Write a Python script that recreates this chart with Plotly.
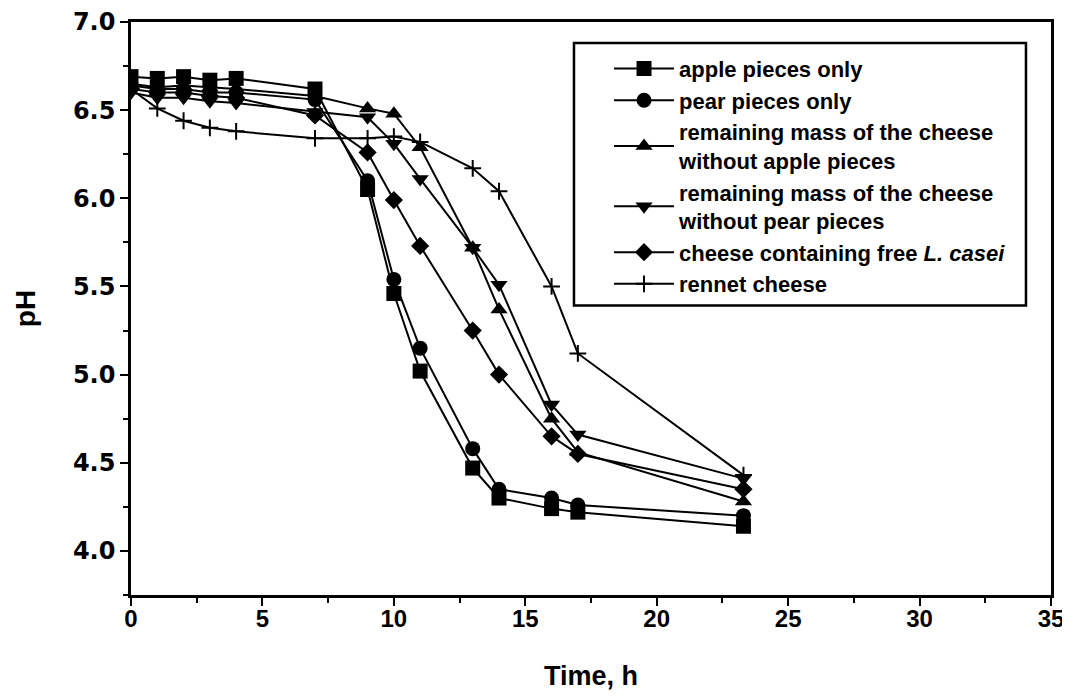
import plotly.graph_objects as go

time_h = [0, 1, 2, 3, 4, 7, 9, 10, 11, 13, 14, 16, 17, 23.3]

apple = [6.69, 6.68, 6.69, 6.67, 6.68, 6.62, 6.05, 5.46, 5.02, 4.47, 4.30, 4.24, 4.22, 4.14]
pear = [6.64, 6.62, 6.62, 6.60, 6.60, 6.56, 6.10, 5.54, 5.15, 4.58, 4.35, 4.30, 4.26, 4.20]
no_apple = [6.65, 6.63, 6.64, 6.63, 6.62, 6.58, 6.51, 6.48, 6.29, 5.72, 5.37, 4.75, 4.56, 4.28]
no_pear = [6.60, 6.57, 6.57, 6.55, 6.54, 6.49, 6.46, 6.31, 6.11, 5.72, 5.51, 4.83, 4.66, 4.41]
free_casei = [6.62, 6.60, 6.60, 6.58, 6.57, 6.47, 6.26, 5.99, 5.73, 5.25, 5.00, 4.65, 4.55, 4.35]
rennet = [6.62, 6.51, 6.44, 6.40, 6.38, 6.34, 6.34, 6.35, 6.32, 6.17, 6.04, 5.50, 5.12, 4.43]

names = [
    "apple pieces only",
    "pear pieces only",
    "remaining mass of the cheese<br>without apple pieces",
    "remaining mass of the cheese<br>without pear pieces",
    "cheese containing free <i>L. casei</i>",
    "rennet cheese",
]
series = [apple, pear, no_apple, no_pear, free_casei, rennet]
symbols = ["square", "circle", "triangle-up", "triangle-down", "diamond", "cross-thin"]
sizes = [15, 15, 15, 15, 14, 12]

fig = go.Figure()
for name, ys, sym, sz in zip(names, series, symbols, sizes):
    marker = dict(symbol=sym, size=sz, color="black")
    if sym == "cross-thin":
        marker["line"] = dict(color="black", width=2)
    fig.add_trace(go.Scatter(
        x=time_h, y=ys, name=name, mode="lines+markers",
        line=dict(color="black", width=2),
        marker=marker,
    ))

# legend frame
fig.add_shape(type="rect", xref="paper", yref="paper",
              x0=0.4815, x1=0.9728, y0=0.5052, y1=0.9635,
              line=dict(color="black", width=2.5), fillcolor="rgba(0,0,0,0)")

fig.update_layout(
    width=1070, height=700,
    margin=dict(l=123, r=27, t=14, b=113),
    plot_bgcolor="white", paper_bgcolor="white",
    font=dict(family="Liberation Sans, Arial, sans-serif", color="black"),
    showlegend=True,
    legend=dict(
        x=0.5196, y=0.955, xanchor="left", yanchor="top",
        borderwidth=0, bgcolor="rgba(0,0,0,0)",
        font=dict(size=22, family="Liberation Sans, Arial, sans-serif", weight="bold"),
        tracegroupgap=4, itemwidth=60,
    ),
    xaxis=dict(
        range=[0, 35], dtick=5, tick0=0, automargin=False,
        showgrid=False, zeroline=False,
        showline=True, linecolor="black", linewidth=2.5, mirror=True,
        ticks="outside", ticklen=8, tickwidth=2, tickcolor="black",
        ticklabelstandoff=-8, ticklabeloverflow="allow",
        minor=dict(dtick=2.5, ticks="outside", ticklen=5, tickwidth=2, tickcolor="black"),
        tickfont=dict(size=24, family="Liberation Sans Narrow, Liberation Sans, Arial", weight="bold"),
        title=dict(text="Time, h", font=dict(size=27, family="Liberation Sans Narrow, Liberation Sans, Arial", weight="bold"), standoff=36),
    ),
    yaxis=dict(
        range=[3.75, 7.0], dtick=0.5, tick0=4.0, tickformat=".1f", automargin=False,
        showgrid=False, zeroline=False,
        showline=True, linecolor="black", linewidth=2.5, mirror=True,
        ticks="outside", ticklen=8, tickwidth=2, tickcolor="black",
        ticklabeloverflow="allow",
        minor=dict(dtick=0.25, tick0=3.75, ticks="outside", ticklen=5, tickwidth=2, tickcolor="black"),
        tickfont=dict(size=24, family="DejaVu Sans, Liberation Sans, Arial", weight="bold"),
        title=dict(text="pH", font=dict(size=28, family="Liberation Sans, Arial", weight="bold"), standoff=30),
    ),
)

fig.write_html("out.html")
